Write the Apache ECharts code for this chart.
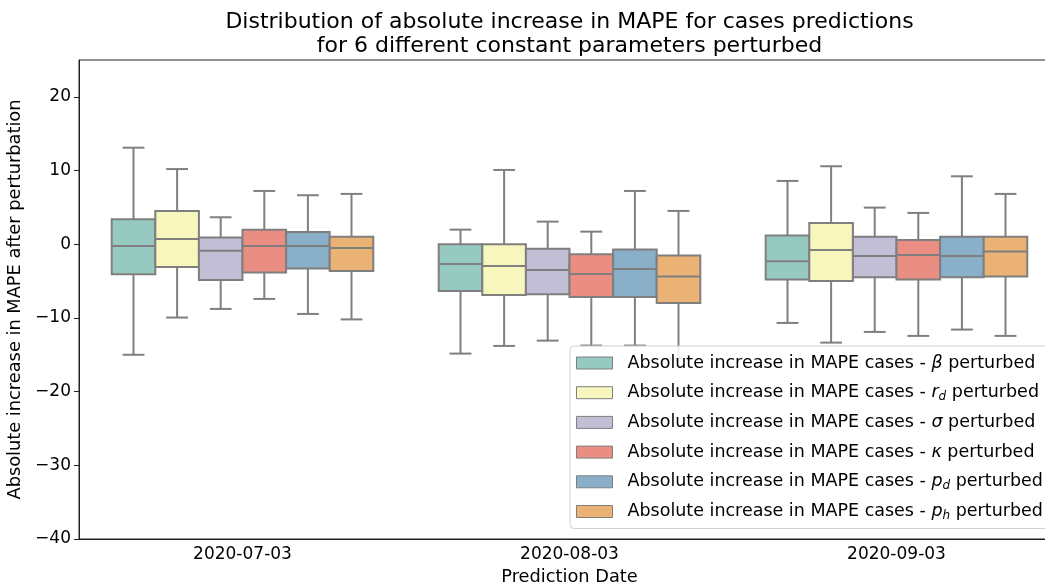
<!DOCTYPE html>
<html><head><meta charset="utf-8">
<script src="https://cdn.jsdelivr.net/npm/echarts@6/dist/echarts.min.js"></script>
<style>html,body{margin:0;padding:0;background:#fff}#c{width:1045px;height:582px}</style>
</head><body><div id="c"></div>
<script>
const categories = ['2020-07-03', '2020-08-03', '2020-09-03'];
const yTicks = [-40, -30, -20, -10, 0, 10, 20];
const titleLines = ['Distribution of absolute increase in MAPE for cases predictions', 'for 6 different constant parameters perturbed'];
const seriesNames = [
  'Absolute increase in MAPE cases - β perturbed',
  'Absolute increase in MAPE cases - r_d perturbed',
  'Absolute increase in MAPE cases - σ perturbed',
  'Absolute increase in MAPE cases - κ perturbed',
  'Absolute increase in MAPE cases - p_d perturbed',
  'Absolute increase in MAPE cases - p_h perturbed'
];
const legendSymbols = ['{i|β}', '{i|r}{s|d}', '{i|σ}', '{i|κ}', '{i|p}{s|d}', '{i|p}{s|h}'];
// each row: [lower whisker, Q1, median, Q3, upper whisker] per date
const betaBoxes  = [[-15.0, -4.07, -0.23, 3.4, 13.1], [-14.84, -6.34, -2.67, 0.0, 1.98], [-10.68, -4.8, -2.31, 1.18, 8.59]];
const rdBoxes    = [[-9.95, -3.1, 0.72, 4.5, 10.2], [-13.8, -6.88, -2.94, 0.0, 10.08], [-13.35, -4.98, -0.77, 2.89, 10.58]];
const sigmaBoxes = [[-8.78, -4.84, -0.87, 0.9, 3.66], [-13.08, -6.79, -3.49, -0.6, 3.07], [-11.9, -4.48, -1.59, 1.03, 4.97]];
const kappaBoxes = [[-7.42, -3.85, -0.23, 1.98, 7.23], [-13.75, -7.15, -4.03, -1.36, 1.71], [-12.44, -4.8, -1.45, 0.58, 4.25]];
const pdBoxes    = [[-9.46, -3.3, -0.23, 1.67, 6.65], [-13.75, -7.15, -3.35, -0.73, 7.23], [-11.58, -4.48, -1.59, 1.03, 9.22]];
const phBoxes    = [[-10.2, -3.62, -0.5, 1.03, 6.83], [-15.5, -7.96, -4.39, -1.54, 4.52], [-12.44, -4.39, -1.0, 1.03, 6.83]];
const allBoxes = [betaBoxes, rdBoxes, sigmaBoxes, kappaBoxes, pdBoxes, phBoxes];
const colors = ['#96cac1', '#f6f6bd', '#c1bed6', '#ea8e83', '#8aafc9', '#eab375'];
const EDGE = '#7f7f7f';
const FONT = 'DejaVu Sans';
const TITLE_SIZE = 22;

function renderBox(params, api) {
  const cat = api.value(0);
  const band = api.size([1, 0])[0];
  const nSeries = allBoxes.length;
  const w = band * 0.8 / nSeries;
  const idx = params.seriesIndex;
  const cx = api.coord([cat, 0])[0] + (idx - (nSeries - 1) / 2) * w;
  const y = v => api.coord([cat, v])[1];
  const yl = y(api.value(1)), yq1 = y(api.value(2)), ym = y(api.value(3)), yq3 = y(api.value(4)), yh = y(api.value(5));
  const ls = { stroke: EDGE, lineWidth: 2 };
  const cap = w / 4;
  return {
    type: 'group', children: [
      { type: 'line', shape: { x1: cx, y1: yl, x2: cx, y2: yq1 }, style: ls },
      { type: 'line', shape: { x1: cx, y1: yq3, x2: cx, y2: yh }, style: ls },
      { type: 'line', shape: { x1: cx - cap, y1: yl, x2: cx + cap, y2: yl }, style: ls },
      { type: 'line', shape: { x1: cx - cap, y1: yh, x2: cx + cap, y2: yh }, style: ls },
      { type: 'rect', shape: { x: cx - w / 2, y: yq3, width: w, height: yq1 - yq3 }, style: { fill: colors[idx], stroke: EDGE, lineWidth: 2 } },
      { type: 'line', shape: { x1: cx - w / 2, y1: ym, x2: cx + w / 2, y2: ym }, style: ls }
    ]
  };
}

const series = allBoxes.map((boxes, s) => ({
  type: 'custom',
  name: seriesNames[s],
  renderItem: renderBox,
  itemStyle: { color: colors[s] },
  encode: { x: 0, y: [1, 2, 3, 4, 5] },
  data: boxes.map((b, i) => [i].concat(b))
}));

// centre each title line over the plot area (plot spans x 79..1060)
const mctx = document.createElement('canvas').getContext('2d');
mctx.font = TITLE_SIZE + 'px "' + FONT + '"';
const titles = titleLines.map((t, k) => ({
  text: t,
  left: (79 + 1060) / 2 - mctx.measureText(t).width / 2,
  top: 10 + k * 24, padding: 0,
  textStyle: { fontFamily: FONT, fontSize: TITLE_SIZE, fontWeight: 'normal', color: '#000', lineHeight: 24 }
}));

const chart = echarts.init(document.getElementById('c'), null, { renderer: 'canvas' });
chart.setOption({
  backgroundColor: '#fff',
  animation: false,
  title: titles,
  grid: { left: 79, top: 60, width: 981, height: 479, show: true, borderColor: '#222', borderWidth: 1,
    backgroundColor: 'transparent', outerBoundsMode: 'none', containLabel: false },
  legend: {
    orient: 'vertical', left: 570, top: 346,
    padding: [7, 30, 7, 6],
    itemWidth: 36, itemHeight: 12, itemGap: 9.7,
    backgroundColor: 'rgba(255,255,255,0.85)', borderColor: '#d0d0d0', borderWidth: 1, borderRadius: 4,
    data: seriesNames.map((n, s) => ({ name: n, icon: 'rect', itemStyle: { color: colors[s], borderColor: EDGE, borderWidth: 1 } })),
    formatter: name => {
      const s = seriesNames.indexOf(name);
      return 'Absolute increase in MAPE cases - ' + legendSymbols[s] + ' perturbed';
    },
    textStyle: {
      fontFamily: FONT, fontSize: 17.5, color: '#000', lineHeight: 20, padding: [0, 0, 0, 10],
      rich: {
        i: { fontFamily: FONT, fontSize: 17.5, fontStyle: 'italic', lineHeight: 20, color: '#000' },
        s: { fontFamily: FONT, fontSize: 12, fontStyle: 'italic', lineHeight: 11, verticalAlign: 'bottom', color: '#000' }
      }
    }
  },
  xAxis: {
    type: 'category', data: categories,
    name: 'Prediction Date', nameLocation: 'middle', nameGap: 24,
    nameTextStyle: { fontFamily: FONT, fontSize: 17.8, color: '#000' },
    axisLine: { onZero: false, lineStyle: { color: '#222', width: 1 } },
    axisTick: { alignWithLabel: true, length: 5, lineStyle: { color: '#222' } },
    axisLabel: { fontFamily: FONT, fontSize: 17, color: '#000', margin: 7 },
    splitLine: { show: false }
  },
  yAxis: {
    type: 'value', min: -40, max: 25, interval: 10,
    name: 'Absolute increase in MAPE after perturbation', nameLocation: 'middle', nameGap: 48,
    nameTextStyle: { fontFamily: FONT, fontSize: 17.8, color: '#000' },
    axisLine: { show: true, lineStyle: { color: '#222', width: 1 } },
    axisTick: { show: true, length: 5, lineStyle: { color: '#222' }, customValues: yTicks },
    axisLabel: { fontFamily: FONT, fontSize: 17, color: '#000', margin: 8, customValues: yTicks,
      formatter: v => String(v).replace('-', '\u2212') },
    splitLine: { show: false }
  },
  series: series
});
</script></body></html>
